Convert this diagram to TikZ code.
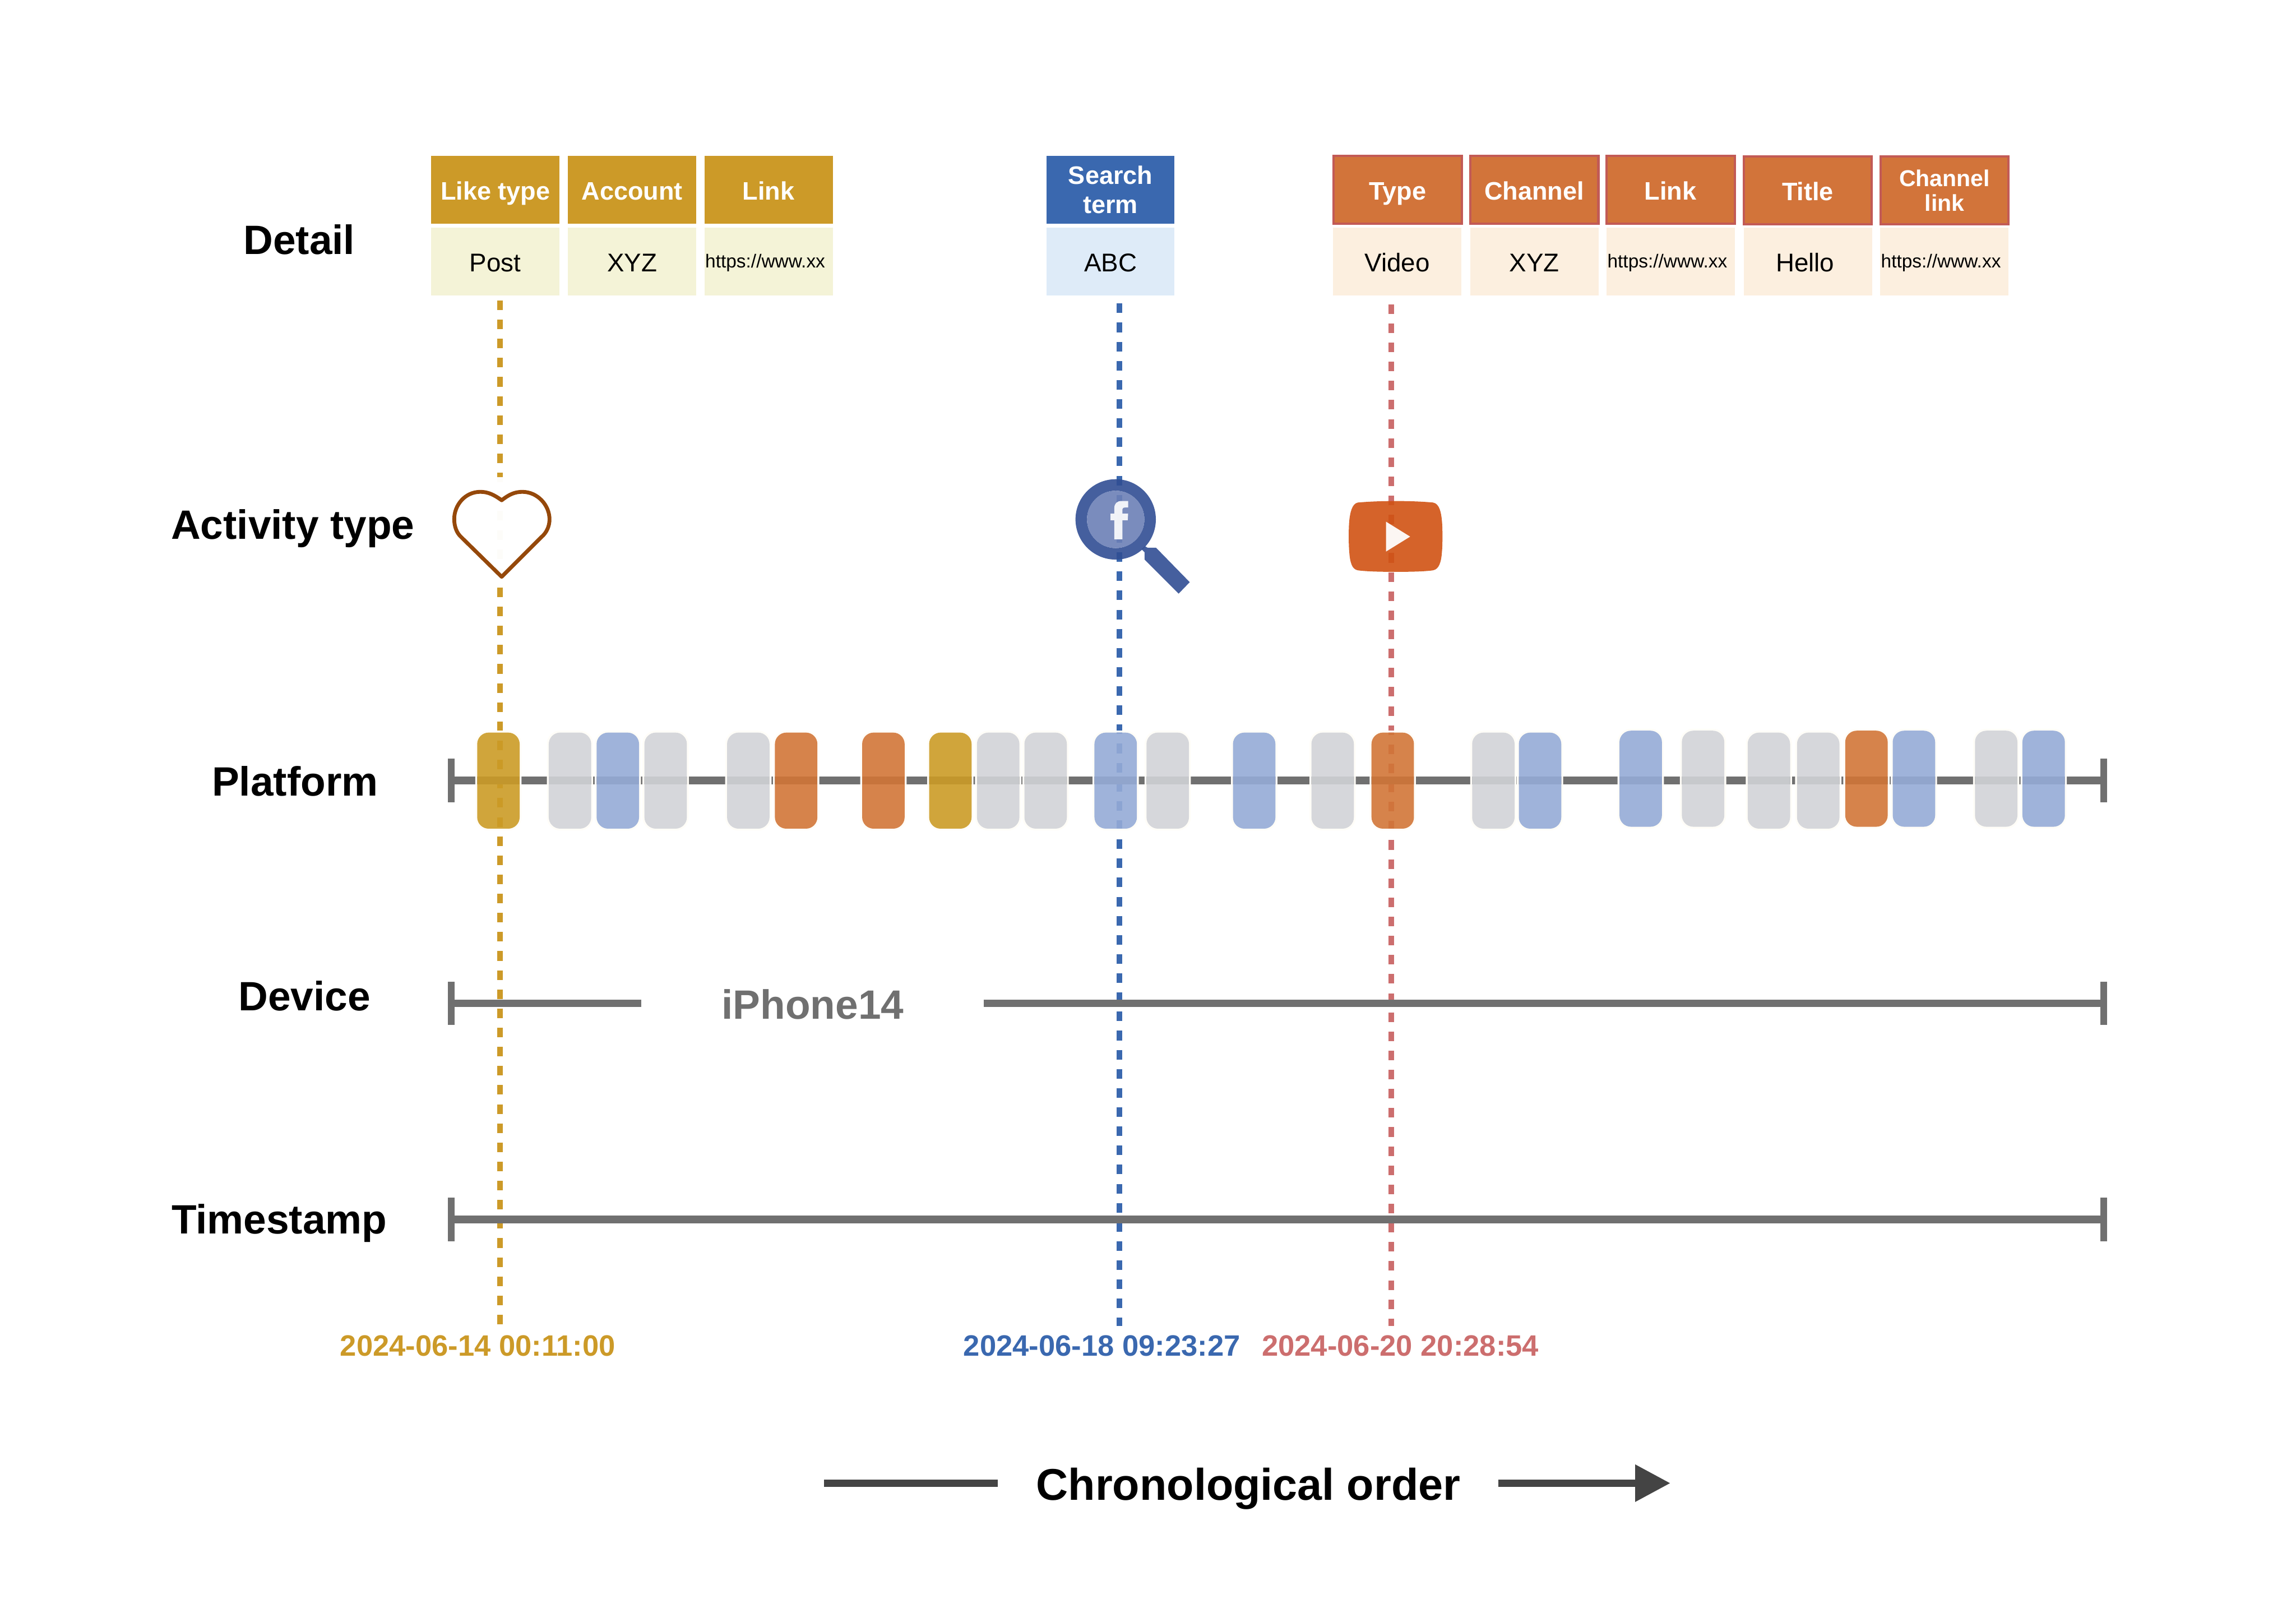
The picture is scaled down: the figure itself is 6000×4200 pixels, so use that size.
\documentclass[tikz,border=0pt]{standalone}
\usepackage{fontspec}
\setmainfont{Liberation Sans}
\usepackage{tikz}
\usetikzlibrary{arrows.meta,positioning,calc}
\definecolor{likegold}{RGB}{204,154,40}
\definecolor{likesoft}{RGB}{244,243,215}
\definecolor{searchblue}{RGB}{58,104,175}
\definecolor{searchsoft}{RGB}{222,235,248}
\definecolor{videoorange}{RGB}{210,116,58}
\definecolor{videoedge}{RGB}{194,90,86}
\definecolor{videosoft}{RGB}{252,239,223}
\definecolor{videorose}{RGB}{204,110,110}
\definecolor{axisgray}{RGB}{112,112,112}
\definecolor{arrowgray}{RGB}{68,68,68}
\definecolor{halowhite}{RGB}{255,253,248}
\definecolor{pillgold}{RGB}{203,155,38}
\definecolor{pillblue}{RGB}{149,171,214}
\definecolor{pillgray}{RGB}{209,211,215}
\definecolor{pillorange}{RGB}{209,117,55}
\definecolor{heartbrown}{RGB}{149,72,10}
\definecolor{lensring}{RGB}{49,78,147}
\definecolor{lensglass}{RGB}{108,128,182}
\definecolor{tubeorange}{RGB}{208,82,19}
\newcommand{\sizedfont}[1]{\fontsize{#1}{#1}\selectfont}
\tikzset{
  cellbase/.style={rectangle, inner sep=0pt, outer sep=0pt, minimum width=335pt, align=center},
  headcell/.style={cellbase, minimum height=178pt, text=white, text height=52pt, text depth=0pt,
    font=\sizedfont{66}\bfseries},
  headtall/.style={cellbase, minimum height=178pt, text=white, font=\fontsize{66}{76}\selectfont\bfseries},
  headsmall/.style={cellbase, minimum height=178pt, text=white, font=\fontsize{60}{65}\selectfont\bfseries},
  edgecell/.style={draw=videoedge, line width=6pt, fill=videoorange},
  bodycell/.style={cellbase, minimum height=177pt, text=black, text height=53pt, text depth=0pt,
    font=\sizedfont{67}},
  urlcell/.style={rectangle, inner xsep=2pt, inner ysep=0pt, outer sep=0pt, minimum width=335pt,
    minimum height=177pt, text width=331pt, align=left, text=black, text height=31pt, text depth=0pt,
    font=\sizedfont{49}},
  rowlabel/.style={anchor=base, inner sep=0pt, text=black, font=\sizedfont{107}\bfseries},
  datelabel/.style={anchor=base, inner sep=0pt, font=\sizedfont{77}\bfseries},
  timedash/.style={line width=15pt, dash pattern=on 25pt off 25pt},
  axisline/.style={draw=axisgray, line width=20pt},
  axistick/.style={draw=axisgray, line width=18pt},
  chronoline/.style={draw=arrowgray, line width=18pt},
  pillhalo/.style={rectangle, draw=halowhite, line width=5pt, rounded corners=32pt, minimum width=116pt,
    minimum height=256pt, inner sep=0pt},
  pillbox/.style={rectangle, rounded corners=30pt, minimum width=111pt, minimum height=251pt,
    inner sep=0pt, fill opacity=.9},
}

\begin{document}
\begin{tikzpicture}[x=1pt,y=-1pt]
    \useasboundingbox (0,0) rectangle (6000,4200);

    \coordinate (goldtop) at (1306.5,785);
    \coordinate (goldend) at (1306.5,3460);
    \coordinate (bluetop) at (2925,793);
    \coordinate (blueend) at (2925,3464);
    \coordinate (rosetop) at (3636,795);
    \coordinate (roseend) at (3636,3464);
    \draw[timedash, likegold] (goldtop) -- (goldend);
    \draw[timedash, searchblue] (bluetop) -- (blueend);
    \draw[timedash, videorose] (rosetop) -- (roseend);

    \node[headcell, fill=likegold] (liketype) at (1294.5,496) {Like type};
    \node[headcell, fill=likegold] (likeaccount) at (1652,496) {Account};
    \node[headcell, fill=likegold] (likelink) at (2008.5,496) {Link};
    \node[bodycell, fill=likesoft] (likepost) at (1294.5,683.5) {Post};
    \node[bodycell, fill=likesoft] (likexyz) at (1652,683.5) {XYZ};
    \node[urlcell, fill=likesoft] (likeurl) at (2008.5,683.5) {https://www.xx};

    \node[headtall, fill=searchblue] (searchterm) at (2902,496) {Search\\term};
    \node[bodycell, fill=searchsoft] (searchabc) at (2902,683.5) {ABC};

    \node[headcell, edgecell, minimum height=177pt] (videotype) at (3652.5,495.5) {Type};
    \node[headcell, edgecell, minimum height=177pt] (videochannel) at (4009.5,495.5) {Channel};
    \node[headcell, edgecell, minimum height=177pt] (videolink) at (4365.5,495.5) {Link};
    \node[headcell, edgecell, minimum height=177pt] (videotitle) at (4724,497.5) {Title};
    \node[headsmall, edgecell, minimum height=177pt] (videochlink) at (5081.5,497.5) {Channel\\link};
    \node[bodycell, fill=videosoft] (videokind) at (3651,683.5) {Video};
    \node[bodycell, fill=videosoft] (videoxyz) at (4009.5,683.5) {XYZ};
    \node[urlcell, fill=videosoft] (videourl) at (4366,683.5) {https://www.xx};
    \node[bodycell, fill=videosoft] (videohello) at (4725,683.5) {Hello\hspace{16pt}};
    \node[urlcell, fill=videosoft] (videochurl) at (5081,683.5) {https://www.xx};

    \node[rowlabel] (detaillabel) at (782,665) {Detail};
    \node[rowlabel] (activitylabel) at (765,1408) {Activity type};
    \node[rowlabel] (platformlabel) at (771,2079) {Platform};
    \node[rowlabel] (devicelabel) at (796,2641) {Device};
    \node[rowlabel] (timestamplabel) at (730,3224) {Timestamp};

    \foreach \rowname/\rowy in {plat/2039,dev/2621.5,time/3186} {
      \coordinate (\rowname-start) at (1179,\rowy);
      \coordinate (\rowname-end) at (5497.5,\rowy);
      \draw[axistick] ($(\rowname-start)+(0,-56.5)$) -- ($(\rowname-start)+(0,56.5)$);
      \draw[axistick] ($(\rowname-end)+(0,-56.5)$) -- ($(\rowname-end)+(0,56.5)$);
    }
    \coordinate (devgapleft) at (1676,2621.5);
    \coordinate (devgapright) at (2571,2621.5);
    \draw[axisline] (plat-start) -- (plat-end);
    \draw[axisline] (dev-start) -- (devgapleft);
    \draw[axisline] (devgapright) -- (dev-end);
    \draw[axisline] (time-start) -- (time-end);
    \node[rowlabel, text=axisgray, font=\sizedfont{107}\bfseries] (iphonelabel) at (2124,2662) {iPhone14};

    \foreach \pillx/\pilly/\pillc in {
      1247/1914/pillgold, 1434/1914/pillgray, 1559/1914/pillblue, 1684/1914/pillgray,
      1900/1914/pillgray, 2025/1914/pillorange, 2253/1914/pillorange, 2428/1914/pillgold,
      2553/1914/pillgray, 2677/1914/pillgray, 2860/1914/pillblue, 2996/1914/pillgray,
      3222/1914/pillblue, 3427/1914/pillgray, 3584/1914/pillorange, 3847/1914/pillgray,
      3969/1914/pillblue, 4232/1909/pillblue, 4395/1909/pillgray, 4567/1914/pillgray,
      4696/1914/pillgray, 4822/1909/pillorange, 4946/1909/pillblue, 5161/1909/pillgray,
      5285/1909/pillblue} {
      \node[pillhalo] (halo\pillx) at ({\pillx+55.5},{\pilly+125.5}) {};
      \node[pillbox, fill=\pillc] (pill\pillx) at ({\pillx+55.5},{\pilly+125.5}) {};
    }

    \fill[white, opacity=.975] (1170,1247) rectangle (1445,1525);
    \draw[heartbrown, line width=10pt, line join=round]
      (1311,1307) .. controls (1290,1292) and (1275,1285) .. (1255,1285)
      .. controls (1215,1285) and (1187,1320) .. (1187,1356)
      .. controls (1187,1375) and (1193,1392) .. (1205,1403)
      -- (1311,1507) -- (1415,1403)
      .. controls (1428,1392) and (1436,1375) .. (1436,1357)
      .. controls (1436,1320) and (1405,1285) .. (1365,1285)
      .. controls (1345,1285) and (1330,1292) .. (1311,1307) -- cycle;

    \fill[lensring, opacity=.9, even odd rule] (2915.5,1357) circle (105) (2915.5,1357) circle (75);
    \fill[lensglass, opacity=.9] (2915.5,1357) circle (75);
    \fill[lensring, opacity=.9] (2992,1427) -- (2999,1431) -- (3021,1431) -- (3109,1521) -- (3080,1551)
      -- (2991,1462) -- (2991,1443) -- (2983,1435) -- cycle;
    \fill[white, opacity=.9] (2912,1409) -- (2912,1359) -- (2902,1359) -- (2902,1342) -- (2912,1342)
      -- (2912,1327) .. controls (2912,1316) and (2919,1309) .. (2930,1309)
      -- (2948,1309) -- (2948,1326) -- (2940,1326) .. controls (2935,1326) and (2933,1328) .. (2933,1331)
      -- (2933,1342) -- (2948,1342) -- (2947,1359) -- (2933,1359) -- (2933,1409) -- cycle;

    \fill[tubeorange, opacity=.9] (3647,1309) .. controls (3690,1309) and (3725,1311) .. (3745,1313)
      .. controls (3762,1316) and (3766,1340) .. (3768,1360)
      .. controls (3770,1380) and (3770,1423) .. (3768,1443)
      .. controls (3766,1470) and (3760,1487) .. (3745,1490)
      .. controls (3725,1493) and (3690,1494) .. (3647,1494)
      .. controls (3605,1494) and (3570,1493) .. (3548,1490)
      .. controls (3533,1487) and (3528,1470) .. (3526,1443)
      .. controls (3524,1423) and (3524,1380) .. (3526,1360)
      .. controls (3528,1340) and (3533,1316) .. (3548,1313)
      .. controls (3570,1311) and (3605,1309) .. (3647,1309) -- cycle;
    \fill[white, opacity=.95] (3622,1363) -- (3685,1402) -- (3622,1441) -- cycle;

    \node[datelabel, text=likegold] (golddate) at (1248.5,3542) {2024-06-14 00:11:00};
    \node[datelabel, text=searchblue] (bluedate) at (2879.5,3542) {2024-06-18 09:23:27};
    \node[datelabel, text=videorose] (rosedate) at (3659.5,3542) {2024-06-20 20:28:54};

    \node[rowlabel, font=\sizedfont{116}\bfseries] (chronolabel) at (3262,3919) {Chronological order};
    \coordinate (chronostart) at (2154,3875);
    \coordinate (chronoleft) at (2607,3875);
    \coordinate (chronoright) at (3915,3875);
    \coordinate (chronotip) at (4365,3875);
    \draw[chronoline] (chronostart) -- (chronoleft);
    \draw[chronoline, -{Triangle[length=92pt,width=93pt,fill=arrowgray]}] (chronoright) -- (chronotip);
\end{tikzpicture}
\end{document}
